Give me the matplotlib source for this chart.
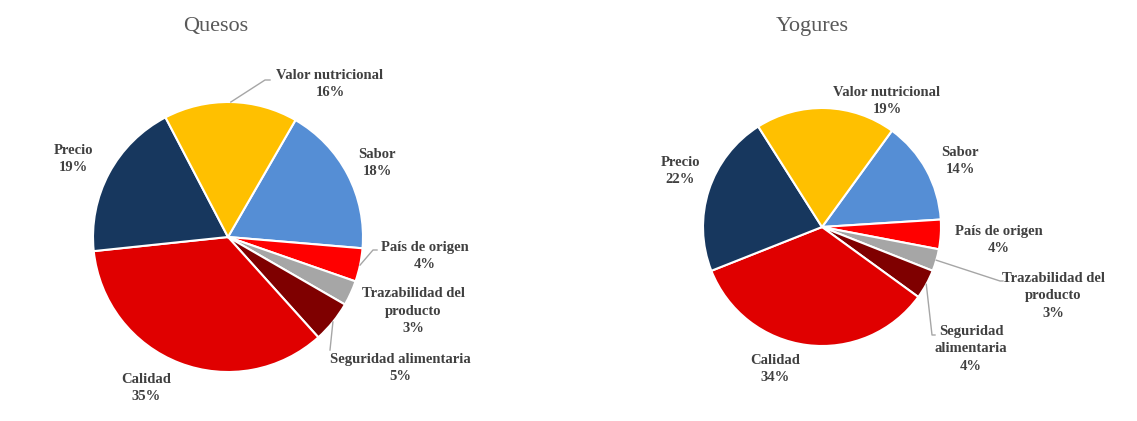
import numpy as np
import matplotlib
matplotlib.use("Agg")
import matplotlib.pyplot as plt

# Atributos valorados en la compra (% de menciones)
categories = ["Sabor", "País de origen", "Trazabilidad del producto",
              "Seguridad alimentaria", "Calidad", "Precio", "Valor nutricional"]
quesos = [18, 4, 3, 5, 35, 19, 16]
yogures = [14, 4, 3, 4, 34, 22, 19]

quesos_labels = ["Sabor", "País de origen", "Trazabilidad del\nproducto",
                 "Seguridad alimentaria", "Calidad", "Precio", "Valor nutricional"]
yogures_labels = ["Sabor", "País de origen", "Trazabilidad del\nproducto",
                  "Seguridad\nalimentaria", "Calidad", "Precio", "Valor nutricional"]

colors = ["#558ED5", "#FF0000", "#A6A6A6", "#7F0000", "#E00000", "#17375E", "#FFC000"]

W, H = 1137, 421
fig = plt.figure(figsize=(W / 100, H / 100), dpi=100)
ax = fig.add_axes([0, 0, 1, 1])

TEXT = "#404040"
FONT = "Liberation Serif"


def Y(y):
    return H - y


def draw_pie(values, labels, title, center, radius, start, title_pos,
             label_pos, leaders):
    cx, cy = center[0], Y(center[1])
    ax.pie(values, colors=colors, startangle=90 - start, counterclock=False,
           center=(cx, cy), radius=radius,
           wedgeprops=dict(edgecolor="white", linewidth=1.5))
    ax.text(title_pos[0], Y(title_pos[1]), title, ha="center", va="center",
            fontsize=16, color="#595959", family=FONT)
    cum = np.cumsum([0] + list(values))
    for i, (lab, v) in enumerate(zip(labels, values)):
        tx, ty = label_pos[i]
        ax.text(tx, Y(ty), f"{lab}\n{v}%", ha="center", va="center",
                fontsize=10.5, color=TEXT, family=FONT, weight="bold",
                linespacing=1.45)
        if i in leaders:
            mid = np.deg2rad(90 - start - 360 * (cum[i] + v / 2) / 100)
            xs = [cx + radius * np.cos(mid)] + [p[0] for p in leaders[i]]
            ys = [cy + radius * np.sin(mid)] + [Y(p[1]) for p in leaders[i]]
            ax.plot(xs, ys, color="#A6A6A6", lw=1)


draw_pie(quesos, quesos_labels, "Quesos", (228, 237), 135, 30, (216, 27),
         [(377, 163), (425, 256), (413, 311), (400, 368), (146, 388),
          (73, 159), (330, 84)],
         {1: [(373, 250), (377, 250)],
          3: [(330, 350)],
          6: [(265, 80), (270, 80)]})

draw_pie(yogures, yogures_labels, "Yogures", (822, 227), 119, 36, (812, 27),
         [(960, 161), (999, 240), (1053, 296), (971, 349), (775, 369),
          (680, 171), (887, 101)],
         {2: [(1000, 281), (1003, 281)],
          3: [(932, 335), (935, 335)]})

ax.set_xlim(0, W)
ax.set_ylim(0, H)
ax.set_aspect("auto")
ax.axis("off")
fig.savefig("out.png", dpi=100, facecolor="white")
